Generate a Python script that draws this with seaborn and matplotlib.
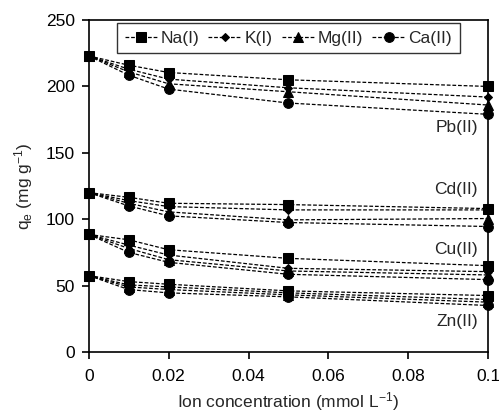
import matplotlib
matplotlib.use("Agg")
import matplotlib.pyplot as plt
import seaborn as sns
import pandas as pd

conc = [0, 0.01, 0.02, 0.05, 0.1]
ions = ["Na(I)", "K(I)", "Mg(II)", "Ca(II)"]

pb_na = [223, 216, 210.5, 205, 200]
pb_k = [223, 213, 205.5, 199, 192]
pb_mg = [223, 211, 202, 196, 186]
pb_ca = [223, 208.5, 198, 187.5, 179]

cd_na = [120, 116.5, 112, 111, 108]
cd_k = [120, 114, 109.5, 107, 107]
cd_mg = [120, 112, 105.5, 99.5, 100.5]
cd_ca = [120, 110, 102.5, 97.5, 94.5]

cu_na = [88.5, 84.5, 77, 70.5, 65]
cu_k = [88.5, 80.5, 73, 63, 60.5]
cu_mg = [88.5, 78, 69.5, 61, 58]
cu_ca = [88.5, 75, 67.5, 58.5, 54.5]

zn_na = [57.5, 53, 51, 46, 42.5]
zn_k = [57.5, 50.5, 49, 44.5, 39.5]
zn_mg = [57.5, 49, 47, 43, 37.5]
zn_ca = [57.5, 47, 44.5, 41.5, 35]

metals = {
    "Pb(II)": [pb_na, pb_k, pb_mg, pb_ca],
    "Cd(II)": [cd_na, cd_k, cd_mg, cd_ca],
    "Cu(II)": [cu_na, cu_k, cu_mg, cu_ca],
    "Zn(II)": [zn_na, zn_k, zn_mg, zn_ca],
}
label_y = {"Pb(II)": 169, "Cd(II)": 122.5, "Cu(II)": 77, "Zn(II)": 23}

rows = []
for metal, series in metals.items():
    for ion, vals in zip(ions, series):
        for c, v in zip(conc, vals):
            rows.append({"metal": metal, "ion": ion, "conc": c, "qe": v})
df = pd.DataFrame(rows)

sns.set_style("ticks")
plt.rcParams["font.family"] = ["Liberation Sans", "DejaVu Sans"]
plt.rcParams["font.size"] = 12.5
plt.rcParams["mathtext.default"] = "regular"

fig = plt.figure(figsize=(4.99, 4.18), dpi=100)
ax = fig.add_axes([0.178, 0.158, 0.800, 0.794])

markers = {"Na(I)": "s", "K(I)": "D", "Mg(II)": "^", "Ca(II)": "o"}
msizes = {"Na(I)": 7, "K(I)": 4.5, "Mg(II)": 6.5, "Ca(II)": 7}

for metal in metals:
    sub = df[df.metal == metal]
    for ion in ions:
        d = sub[sub.ion == ion]
        sns.lineplot(data=d, x="conc", y="qe", ax=ax, color="black",
                     linestyle=(0, (3, 1.5)), linewidth=0.9,
                     marker=markers[ion], markersize=msizes[ion],
                     markeredgecolor="black", markerfacecolor="black",
                     label=ion if metal == "Pb(II)" else None,
                     clip_on=False, zorder=3)
    ax.text(0.0975, label_y[metal], metal, ha="right", va="center", fontsize=12.5)

ax.set_xlim(0, 0.1)
ax.set_ylim(0, 250)
ax.set_xticks([0, 0.02, 0.04, 0.06, 0.08, 0.1])
ax.set_xticklabels(["0", "0.02", "0.04", "0.06", "0.08", "0.1"])
ax.set_yticks([0, 50, 100, 150, 200, 250])
ax.tick_params(axis="both", direction="out", length=5, width=1.2, labelsize=12.5, colors="black")
ax.tick_params(axis="x", pad=7)
ax.tick_params(axis="y", pad=5)
for s in ax.spines.values():
    s.set_linewidth(1.2)
    s.set_color("black")

ax.set_xlabel("Ion concentration (mmol L$^{-1}$)", fontsize=12.5, labelpad=5)
ax.set_ylabel("q$_{e}$ (mg g$^{-1}$)", fontsize=12.5, labelpad=8)

leg = ax.legend(loc="upper center", ncol=4, frameon=True, fancybox=False,
                edgecolor="black", fontsize=12.5, handlelength=1.9,
                handletextpad=0.2, columnspacing=0.5, borderpad=0.45,
                borderaxespad=0.15)
leg.get_frame().set_linewidth(1.0)

fig.savefig("out.png", dpi=100)
